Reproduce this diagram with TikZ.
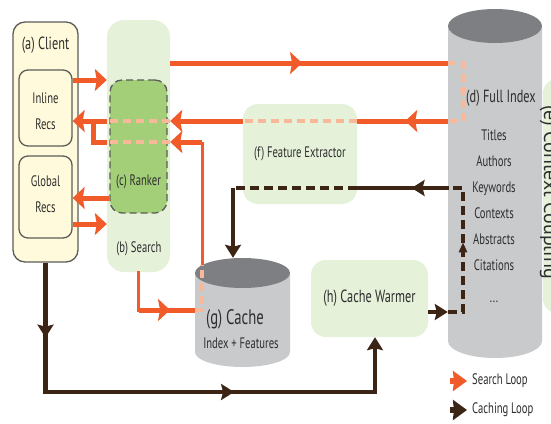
\documentclass[tikz,border=0pt]{standalone}
\usepackage{fontspec}
\setmainfont{PT Sans}[FakeStretch=0.7]
\newfontfamily\ccfont{PT Sans}
\usetikzlibrary{arrows.meta,decorations.markings}
\definecolor{sorange}{HTML}{F15A29}
\definecolor{lorange}{HTML}{F8B899}
\definecolor{cbrown}{HTML}{3D2516}
\definecolor{clientfill}{HTML}{FFFADB}
\definecolor{boxline}{HTML}{5C5C58}
\definecolor{lgreen}{HTML}{E6F1D9}
\definecolor{rgreen}{HTML}{A3CF79}
\definecolor{cylbody}{HTML}{C9CACC}
\definecolor{cyltop}{HTML}{7E7F82}
\definecolor{txt}{HTML}{2E2E2E}
\tikzset{
  otip/.tip={Stealth[length=12pt,width=22pt,inset=2pt,color=sorange]},
  btip/.tip={Stealth[length=13pt,width=16pt,inset=2pt,color=cbrown]},
  lotip/.tip={Stealth[length=9pt,width=7pt,inset=1pt,color=lorange]},
  sbtip/.tip={Triangle[length=10pt,width=8pt,color=cbrown]},
  omid/.style={postaction={decorate,decoration={markings,mark=at position #1 with {\arrow{otip}}}}},
  bmid/.style={postaction={decorate,decoration={markings,mark=at position #1 with {\arrow{btip}}}}},
  lomid/.style={postaction={decorate,decoration={markings,mark=at position #1 with {\arrow{lotip}}}}},
  sbmid/.style={postaction={decorate,decoration={markings,mark=at position #1 with {\arrow{sbtip}}}}},
  f13/.style={font=\fontsize{15.2}{17}\selectfont},
  f15/.style={font=\fontsize{17.6}{20}\selectfont},
  f18/.style={font=\fontsize{21}{24}\selectfont},
  flist/.style={font=\fontsize{15.2}{26}\selectfont},
  clientbox/.style={draw=boxline, line width=1.3pt, fill=clientfill, rounded corners=12pt},
  recsbox/.style={draw=boxline, line width=1.3pt, fill=clientfill, rounded corners=9pt},
  greenbox/.style={fill=lgreen, rounded corners=15pt},
  rankerbox/.style={draw=boxline, dash pattern=on 7pt off 4pt, line width=1.3pt, fill=rgreen, rounded corners=12pt},
  sline/.style={line width=5pt, draw=sorange},
  slinethin/.style={line width=3pt, draw=sorange},
  ghost/.style={line width=3.5pt, draw=lorange, dash pattern=on 8pt off 5pt},
  bline/.style={line width=4.5pt, draw=cbrown},
  bdash/.style={line width=3.5pt, draw=cbrown, dash pattern=on 9pt off 5pt},
}
\begin{document}
\begin{tikzpicture}[x=1pt,y=-1pt, every node/.style={text=txt,inner sep=0pt,align=center}]
\clip (0,0) rectangle (551,423);
\useasboundingbox (0,0) rectangle (551,423);
\fill[white] (0,0) rectangle (551,423);

% ---- boxes
\node[clientbox, minimum width=65, minimum height=240] (client) at (45.5,142) {};
\node[f15, anchor=base] (clientlbl) at (45.5,49) {(a) Client};
\node[recsbox, minimum width=53, minimum height=76] (inl) at (45.5,108) {};
\node[recsbox, minimum width=53, minimum height=82] (glob) at (45.5,197) {};
\node[greenbox, rounded corners=17pt, minimum width=63, minimum height=252] (search) at (138.5,146) {};
\node[rankerbox, minimum width=57, minimum height=133] (ranker) at (138.5,146.5) {};
\node[greenbox, minimum width=114, minimum height=100, f13] (fe) at (300,154) {(f) Feature Extractor};
\node[greenbox, minimum width=117, minimum height=77, f15] (warm) at (369.5,298.5) {(h) Cache Warmer};
\node[greenbox, minimum width=30, minimum height=235] (cc) at (558,196) {};

% ---- full index cylinder
\fill[cylbody] (448,26) -- (448,341) arc[start angle=180,end angle=0,x radius=47,y radius=17] -- (542,26) -- cycle;
\fill[cyltop] (495,26) ellipse[x radius=47,y radius=17];
\node[minimum width=94, minimum height=350] (fi) at (495,183) {};

% ---- cache cylinder
\fill[cylbody] (195,273) -- (195,352) arc[start angle=180,end angle=0,x radius=47.5,y radius=15] -- (290,273) -- cycle;
\fill[cyltop] (242.5,273) ellipse[x radius=47.5,y radius=15];
\node[minimum width=95, minimum height=109] (cache) at (242.5,312.5) {};

% ---- level coordinates
\coordinate (yA) at (0,80);
\coordinate (yTop) at (0,63);
\coordinate (yRet) at (0,121);
\coordinate (yRet2) at (0,142);
\coordinate (yRG) at (0,198);
\coordinate (yGS) at (0,224);
\coordinate (yCin) at (0,310);
\coordinate (yBr) at (0,188);
\coordinate (yWarm) at (0,312);
\coordinate (yBot) at (0,392);
\coordinate (xLoop) at (463,0);
\coordinate (xJ) at (93,0);
\coordinate (xV) at (202,0);
\coordinate (xB) at (233,0);
\coordinate (xW) at (375,0);
\coordinate (cvtop) at (202,265);

% ---- search loop (orange)
\draw[sline,-otip] (inl.east |- yA) -- (search.west |- yA);
\draw[sline, omid=0.475] (search.east |- yTop) -- (fi.west |- yTop);
\draw[ghost, lomid=0.56] (fi.west |- yTop) -- (xLoop |- yTop) -- (xLoop |- yRet) -- (fi.west |- yRet);
\draw[sline, omid=0.47] (fi.west |- yRet) -- (fe.east |- yRet);
\draw[ghost] (fe.east |- yRet) -- (fe.west |- yRet);
\draw[ghost] (search.east |- yRet) -- (search.west |- yRet);
\draw[sline,-otip] (fe.west |- yRet) -- (search.east |- yRet);
\draw[sline,-otip] (search.west |- yRet) -- (inl.east |- yRet);

\draw[slinethin, line cap=rect] (search.south) -- (search.south |- yCin);
\draw[sline, omid=0.56] (search.south |- yCin) -- (cache.west |- yCin);
\draw[ghost] (cache.west |- yCin) -- (xV |- yCin) -- (cvtop);
\draw[slinethin] (cvtop) -- (xV |- yRet2);
\draw[ghost] (search.east |- yRet2) -- (search.west |- yRet2);
\draw[sline,-otip] (xV |- yRet2) -- (search.east |- yRet2);
\draw[sline] (search.west |- yRet2) -- (xJ |- yRet2) -- (xJ |- yRet);

\draw[sline,-otip] (ranker.west |- yRG) -- (glob.east |- yRG);
\draw[sline,-otip] (glob.east |- yGS) -- (search.west |- yGS);

% ---- caching loop (brown)
\draw[bline, bmid=0.146, bmid=0.619, -btip] (client.south) -- (client.south |- yBot) -- (xW |- yBot) -- (xW |- warm.south);
\draw[bline,-btip] (warm.east |- yWarm) -- (fi.west |- yWarm);
\draw[bdash, sbmid=0.55] (fi.west |- yWarm) -- (xLoop |- yWarm) -- (xLoop |- yBr) -- (fi.west |- yBr);
\draw[bline, bmid=0.40] (fi.west |- yBr) -- (fe.east |- yBr);
\draw[bdash] (fe.east |- yBr) -- (xB |- yBr);
\draw[bline,-btip] (xB |- yBr) -- (xB |- cache.north);

% ---- labels
\node[flist] (inllbl) at (45.5,111.5) {Inline\\Recs};
\node[flist] (globlbl) at (45.5,194.5) {Global\\Recs};
\node[f13] (rankerlbl) at (138.5,182) {(c) Ranker};
\node[f13] (searchlbl) at (139,249) {(b) Search};
\node[f15] (filbl) at (501,98) {(d) Full Index};
\node[flist] (filist) at (494,216) {Titles\\Authors\\Keywords\\Contexts\\Abstracts\\Citations\\[6pt]...};
\node[f18] (cachelbl) at (235,319) {(g) Cache};
\node[f13] (cachesub) at (241,343) {Index + Features};
\node[rotate=-90, anchor=base, font=\ccfont\fontsize{20}{24}\selectfont] (cclbl) at (544,192) {(e) Context Coupling};

% ---- legend
\node[f13, anchor=west] (leg1) at (472,381) {Search Loop};
\node[f13, anchor=west] (leg2) at (472,410) {Caching Loop};
\draw[line width=6pt, draw=sorange, -{Stealth[length=14pt,width=20pt,inset=1pt,color=sorange]}] ([xshift=-22pt]leg1.west) -- ([xshift=-5pt]leg1.west);
\draw[line width=6pt, draw=cbrown, -{Stealth[length=14pt,width=20pt,inset=1pt,color=cbrown]}] ([xshift=-22pt]leg2.west) -- ([xshift=-5pt]leg2.west);
\end{tikzpicture}
\end{document}
